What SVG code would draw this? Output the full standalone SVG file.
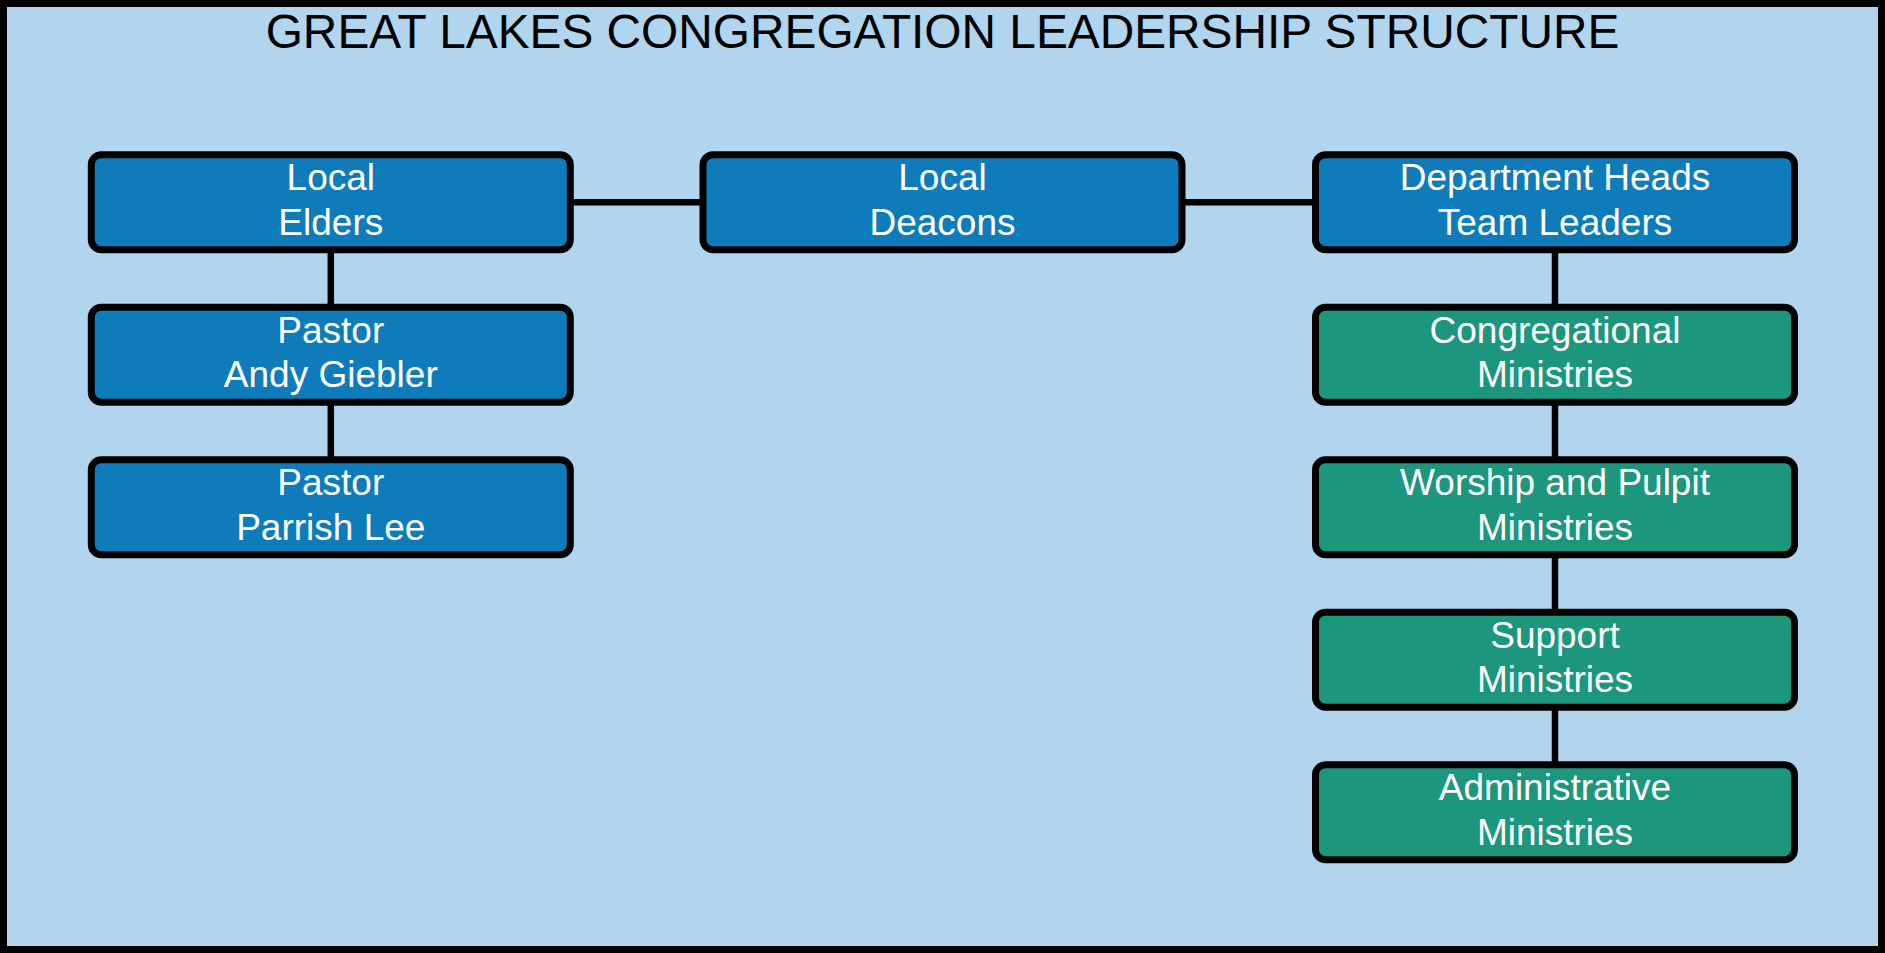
<svg xmlns="http://www.w3.org/2000/svg" width="1885" height="953" viewBox="0 0 1885 953">
<style>
.bg{fill:#b1d5ee;stroke:#000;stroke-width:7}
.box{stroke:#000;stroke-width:7}
.blue{fill:#0e7cba}
.green{fill:#1c967d}
.lbl{fill:#fff;font-family:"Liberation Sans",Arial,sans-serif;font-size:37px;text-anchor:middle}
.title{fill:#000;font-family:"Liberation Sans",Arial,sans-serif;font-size:47.8px;text-anchor:middle}
.conn{stroke:#000;stroke-width:6.5;fill:none}
</style>
<rect class="bg" x="3.5" y="3.5" width="1878" height="946"/>
<text class="title" x="942.5" y="48.3">GREAT LAKES CONGREGATION LEADERSHIP STRUCTURE</text>
<g id="connectors">
<line class="conn" x1="570" y1="202.2" x2="703" y2="202.2"/>
<line class="conn" x1="1182" y1="202.2" x2="1315.5" y2="202.2"/>
<line class="conn" x1="330.8" y1="249.7" x2="330.8" y2="307.2"/>
<line class="conn" x1="330.8" y1="402.2" x2="330.8" y2="459.7"/>
<line class="conn" x1="1555" y1="249.7" x2="1555" y2="307.2"/>
<line class="conn" x1="1555" y1="402.2" x2="1555" y2="459.7"/>
<line class="conn" x1="1555" y1="554.7" x2="1555" y2="612.2"/>
<line class="conn" x1="1555" y1="707.2" x2="1555" y2="764.7"/>
</g>
<g id="local-elders">
<rect class="box blue" x="91.3" y="154.7" width="479" height="95" rx="10"/>
<text class="lbl" x="330.8" y="190">Local</text>
<text class="lbl" x="330.8" y="234.5">Elders</text>
</g>
<g id="pastor-andy">
<rect class="box blue" x="91.3" y="307.2" width="479" height="95" rx="10"/>
<text class="lbl" x="330.8" y="342.5">Pastor</text>
<text class="lbl" x="330.8" y="387">Andy Giebler</text>
</g>
<g id="pastor-parrish">
<rect class="box blue" x="91.3" y="459.7" width="479" height="95" rx="10"/>
<text class="lbl" x="330.8" y="495">Pastor</text>
<text class="lbl" x="330.8" y="539.5">Parrish Lee</text>
</g>
<g id="local-deacons">
<rect class="box blue" x="703" y="154.7" width="479" height="95" rx="10"/>
<text class="lbl" x="942.5" y="190">Local</text>
<text class="lbl" x="942.5" y="234.5">Deacons</text>
</g>
<g id="department-heads">
<rect class="box blue" x="1315.5" y="154.7" width="479" height="95" rx="10"/>
<text class="lbl" x="1555" y="190">Department Heads</text>
<text class="lbl" x="1555" y="234.5">Team Leaders</text>
</g>
<g id="congregational">
<rect class="box green" x="1315.5" y="307.2" width="479" height="95" rx="10"/>
<text class="lbl" x="1555" y="342.5">Congregational</text>
<text class="lbl" x="1555" y="387">Ministries</text>
</g>
<g id="worship">
<rect class="box green" x="1315.5" y="459.7" width="479" height="95" rx="10"/>
<text class="lbl" x="1555" y="495">Worship and Pulpit</text>
<text class="lbl" x="1555" y="539.5">Ministries</text>
</g>
<g id="support">
<rect class="box green" x="1315.5" y="612.2" width="479" height="95" rx="10"/>
<text class="lbl" x="1555" y="647.5">Support</text>
<text class="lbl" x="1555" y="692">Ministries</text>
</g>
<g id="administrative">
<rect class="box green" x="1315.5" y="764.7" width="479" height="95" rx="10"/>
<text class="lbl" x="1555" y="800">Administrative</text>
<text class="lbl" x="1555" y="844.5">Ministries</text>
</g>
</svg>
